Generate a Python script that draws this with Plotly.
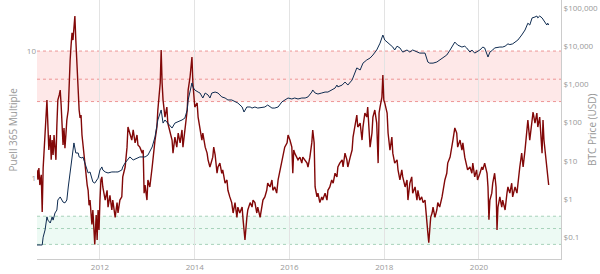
import plotly.graph_objects as go
from datetime import datetime

# ---- data (decimal years) ----
puell_t = [
    2010.67, 2010.69, 2010.71, 2010.73, 2010.76, 2010.78, 2010.80, 2010.82, 2010.84, 2010.86,
    2010.88, 2010.90, 2010.92, 2010.95, 2010.97, 2010.99, 2011.01, 2011.03, 2011.05, 2011.07,
    2011.09, 2011.11, 2011.14, 2011.16, 2011.18, 2011.20, 2011.22, 2011.24, 2011.26, 2011.28,
    2011.30, 2011.33, 2011.35, 2011.37, 2011.39, 2011.41, 2011.43, 2011.45, 2011.47, 2011.49,
    2011.51, 2011.54, 2011.56, 2011.58, 2011.60, 2011.62, 2011.64, 2011.66, 2011.68, 2011.70,
    2011.73, 2011.75, 2011.77, 2011.79, 2011.81, 2011.83, 2011.85, 2011.87, 2011.89, 2011.92,
    2011.94, 2011.96, 2011.98, 2012.00, 2012.02,
    2012.04, 2012.06, 2012.11, 2012.15, 2012.17, 2012.21, 2012.25, 2012.27, 2012.32, 2012.36,
    2012.38, 2012.42, 2012.46, 2012.48, 2012.53, 2012.57, 2012.59, 2012.63, 2012.67, 2012.70,
    2012.74, 2012.78, 2012.80, 2012.84, 2012.89, 2012.91, 2012.93, 2012.95,
    2012.99, 2013.01, 2013.05, 2013.10, 2013.12, 2013.16, 2013.20, 2013.22, 2013.27, 2013.29,
    2013.31, 2013.33, 2013.37, 2013.41, 2013.43, 2013.48, 2013.52, 2013.54, 2013.58, 2013.62,
    2013.65, 2013.69, 2013.73, 2013.75, 2013.79, 2013.84, 2013.86, 2013.90, 2013.94, 2013.96,
    2014.00, 2014.05, 2014.07, 2014.11, 2014.15, 2014.17, 2014.22, 2014.26, 2014.28, 2014.32,
    2014.36, 2014.38, 2014.40, 2014.43, 2014.47, 2014.49, 2014.53, 2014.57, 2014.59, 2014.64,
    2014.68, 2014.70, 2014.74, 2014.78, 2014.81, 2014.85, 2014.89, 2014.91, 2014.95, 2015.00,
    2015.02, 2015.06, 2015.10, 2015.12, 2015.17, 2015.21, 2015.23,
    2015.27, 2015.31, 2015.33, 2015.38, 2015.42, 2015.44, 2015.48, 2015.52, 2015.54, 2015.59,
    2015.63, 2015.65, 2015.69, 2015.73, 2015.76, 2015.80, 2015.84, 2015.86, 2015.90, 2015.95,
    2015.97, 2016.01, 2016.05, 2016.07, 2016.09, 2016.11, 2016.16, 2016.18, 2016.22, 2016.26,
    2016.28, 2016.33, 2016.37, 2016.39, 2016.43, 2016.47, 2016.49, 2016.52, 2016.54, 2016.58,
    2016.60, 2016.64, 2016.68, 2016.70, 2016.75, 2016.79, 2016.81, 2016.85, 2016.89, 2016.92,
    2016.96, 2017.00, 2017.02, 2017.06, 2017.11, 2017.13, 2017.17, 2017.21, 2017.23, 2017.28,
    2017.32, 2017.34, 2017.38, 2017.42, 2017.44, 2017.49, 2017.53, 2017.55,
    2017.59, 2017.63, 2017.65, 2017.70, 2017.74, 2017.76, 2017.80, 2017.84, 2017.87, 2017.89,
    2017.91, 2017.95, 2017.97, 2017.99, 2018.01, 2018.06, 2018.08, 2018.12, 2018.16, 2018.18,
    2018.22, 2018.27, 2018.29, 2018.33, 2018.37, 2018.39, 2018.44, 2018.48, 2018.50, 2018.54,
    2018.58, 2018.60, 2018.65, 2018.69, 2018.71, 2018.75, 2018.79, 2018.82, 2018.86, 2018.90,
    2018.92, 2018.94, 2018.98, 2019.01, 2019.03, 2019.07, 2019.11, 2019.13, 2019.17, 2019.22,
    2019.24, 2019.28, 2019.32, 2019.34, 2019.39, 2019.43, 2019.45, 2019.49, 2019.53, 2019.55,
    2019.60, 2019.64, 2019.66, 2019.70, 2019.74, 2019.76,
    2019.81, 2019.85, 2019.87, 2019.91, 2019.95, 2019.97, 2020.02, 2020.06, 2020.08, 2020.12,
    2020.17, 2020.19, 2020.21, 2020.23, 2020.27, 2020.29, 2020.33, 2020.36, 2020.38, 2020.40,
    2020.44, 2020.48, 2020.50, 2020.55, 2020.59, 2020.61, 2020.65, 2020.69, 2020.71, 2020.76,
    2020.80, 2020.82, 2020.86, 2020.90, 2020.93, 2020.97, 2021.01, 2021.03, 2021.07, 2021.12,
    2021.14, 2021.18, 2021.22, 2021.24, 2021.28, 2021.33, 2021.35, 2021.37, 2021.41, 2021.43,
    2021.45, 2021.47,
]
puell_v = [
    1.16, 0.97, 1.20, 0.88, 1.06, 0.54, 1.20, 1.66, 2.39, 3.13,
    4.11, 2.61, 1.66, 2.18, 1.39, 1.99, 1.52, 2.18, 1.66, 1.39,
    2.61, 4.11, 4.51, 4.93, 3.76, 2.39, 1.82, 2.48, 1.72, 2.18,
    2.86, 3.43, 7.08, 8.5, 11.1, 13.9, 12.2, 14.6, 18.9, 12.2,
    8.5, 4.11, 3.43, 2.97, 3.13, 2.18, 1.82, 1.52, 1.27, 1.06,
    0.88, 0.80, 0.61, 0.67, 0.51, 0.43, 0.56, 0.36, 0.30, 0.51,
    0.325, 0.56, 0.39, 0.67, 0.965,
    1.02, 0.85, 0.67, 0.80, 0.59, 0.73, 0.56, 0.67, 0.49, 0.64,
    0.53, 0.67, 0.71, 1.02, 1.22, 1.75, 2.52, 2.26, 1.99, 2.39,
    1.89, 2.18, 1.82, 1.75, 1.57, 1.66, 0.76, 0.88,
    0.67, 0.965, 0.85, 1.22, 1.46, 1.99, 2.52, 3.43, 5.60, 10.2,
    5.60, 4.11, 3.02, 3.62, 2.71, 2.26, 1.99, 1.57, 2.10, 1.75,
    2.26, 1.89, 2.39, 1.75, 2.26, 3.43, 4.93, 6.24, 8.97, 5.60,
    3.62, 3.90, 3.02, 2.52, 1.99, 2.26, 1.75, 1.57, 1.39, 1.22,
    1.39, 1.46, 1.75, 1.52, 1.09, 1.22, 1.31, 1.09, 1.16, 0.91,
    0.965, 0.80, 0.71, 0.64, 0.53, 0.64, 0.49, 0.59, 0.53, 0.59,
    0.47, 0.325, 0.49, 0.56, 0.64, 0.59, 0.67,
    0.64, 0.53, 0.59, 0.49, 0.59, 0.67, 0.71, 0.80, 0.91, 0.85,
    0.965, 0.80, 0.85, 0.76, 0.965, 1.16, 1.31, 1.46, 1.75, 1.89,
    2.18, 1.99, 1.75, 1.09, 1.66, 1.57, 1.46, 1.39, 1.46, 1.31,
    1.46, 1.39, 1.31, 1.22, 1.46, 1.89, 2.39, 1.89, 0.85, 0.71,
    0.76, 0.64, 0.71, 0.67, 0.76, 0.67, 0.80, 0.85, 0.965, 0.91,
    1.09, 1.02, 1.22, 1.31, 1.39, 1.22, 1.57, 1.39, 1.22, 1.46,
    1.66, 2.10, 2.52, 3.13, 2.52, 2.71, 1.99, 2.52,
    3.25, 3.02, 3.62, 1.75, 2.26, 3.02, 3.43, 2.71, 1.31, 3.25,
    3.62, 4.34, 6.47, 4.11, 3.90, 3.25, 2.26, 1.66, 2.10, 1.57,
    1.31, 1.39, 1.16, 0.965, 1.16, 1.02, 0.85, 0.965, 0.67, 0.91,
    1.02, 0.76, 0.85, 0.67, 0.80, 0.67, 0.71, 0.64, 0.67, 0.49,
    0.37, 0.31, 0.49, 0.53, 0.59, 0.49, 0.56, 0.64, 0.59, 0.71,
    0.80, 0.965, 1.09, 1.31, 1.46, 1.75, 1.99, 2.48, 2.26, 1.75,
    1.99, 1.66, 1.89, 1.46, 1.22, 1.16,
    1.22, 1.09, 1.31, 1.02, 1.16, 0.965, 1.09, 1.22, 1.16, 1.31,
    1.09, 0.85, 0.47, 0.67, 0.76, 0.91, 1.09, 0.85, 0.39, 0.59,
    0.71, 0.59, 0.67, 0.56, 0.76, 0.85, 0.76, 0.91, 0.71, 0.85,
    0.76, 0.91, 1.22, 1.57, 1.22, 1.66, 2.52, 2.86, 1.99, 3.13,
    3.31, 2.71, 3.25, 2.52, 3.02, 1.57, 2.86, 1.99, 1.46, 1.22,
    1.09, 0.88,
]

price_t = [
    2010.67, 2010.78, 2010.80, 2010.84, 2010.88, 2010.90, 2010.95, 2010.99, 2011.01, 2011.05,
    2011.09, 2011.11, 2011.16, 2011.20, 2011.22, 2011.26, 2011.30, 2011.33, 2011.37, 2011.41,
    2011.43, 2011.45, 2011.49, 2011.54, 2011.56, 2011.62, 2011.64, 2011.68, 2011.73, 2011.75,
    2011.79, 2011.83, 2011.85, 2011.89, 2011.94, 2011.96, 2012.00, 2012.04, 2012.06, 2012.11,
    2012.17, 2012.25, 2012.32, 2012.38, 2012.46, 2012.48, 2012.53, 2012.57, 2012.63, 2012.70,
    2012.78, 2012.84, 2012.91, 2012.95, 2013.01, 2013.10, 2013.16, 2013.22, 2013.29, 2013.31,
    2013.33, 2013.37, 2013.43, 2013.52, 2013.58, 2013.65, 2013.73, 2013.79, 2013.84, 2013.86,
    2013.90, 2013.94, 2013.96, 2014.00, 2014.07, 2014.11, 2014.17, 2014.22, 2014.28, 2014.32,
    2014.36, 2014.43, 2014.49, 2014.57, 2014.64, 2014.70, 2014.78, 2014.85, 2014.91, 2015.00,
    2015.04, 2015.10, 2015.17, 2015.21, 2015.27, 2015.33, 2015.42, 2015.48, 2015.54, 2015.63,
    2015.69, 2015.76, 2015.84, 2015.90, 2015.97, 2016.05, 2016.11, 2016.18, 2016.26, 2016.33,
    2016.39, 2016.47, 2016.49, 2016.54, 2016.60, 2016.68, 2016.75, 2016.81, 2016.89, 2016.96,
    2017.00, 2017.02, 2017.11, 2017.17, 2017.21, 2017.23, 2017.32, 2017.38, 2017.42, 2017.49,
    2017.55, 2017.63, 2017.70, 2017.76, 2017.84, 2017.91, 2017.97, 2018.01, 2018.06, 2018.12,
    2018.18, 2018.22, 2018.27, 2018.33, 2018.39, 2018.48, 2018.54, 2018.60, 2018.69, 2018.75,
    2018.86, 2018.90, 2018.92, 2018.96, 2019.03, 2019.11, 2019.17, 2019.24, 2019.32, 2019.39,
    2019.45, 2019.49, 2019.55, 2019.64, 2019.70, 2019.74, 2019.81, 2019.85, 2019.91, 2019.95,
    2020.02, 2020.08, 2020.12, 2020.19, 2020.23, 2020.29, 2020.33, 2020.44, 2020.50, 2020.55,
    2020.61, 2020.65, 2020.71, 2020.82, 2020.86, 2020.90, 2020.97, 2021.01, 2021.03, 2021.07,
    2021.12, 2021.18, 2021.22, 2021.24, 2021.28, 2021.33, 2021.39, 2021.43, 2021.45, 2021.47,
]
price_v = [
    0.0625, 0.0625, 0.10, 0.154, 0.34, 0.28, 0.235, 0.34, 0.28, 0.43,
    0.515, 0.94, 1.13, 0.94, 0.83, 0.79, 0.94, 2.06, 4.8, 10.5,
    19.2, 29.3, 16.0, 16.0, 12.6, 11.8, 12.6, 8.8, 5.74, 4.8,
    5.1, 3.14, 2.8, 2.6, 3.14, 3.5, 5.74, 6.9, 5.74, 5.1,
    4.8, 5.1, 5.1, 5.1, 5.74, 6.9, 8.8, 10.5, 12.6, 10.5,
    11.8, 12.6, 12.6, 12.6, 14.1, 23, 42, 117, 214, 117,
    97, 117, 97, 72, 97, 104, 117, 131, 214, 391,
    714, 1090, 860, 714, 630, 595, 440, 595, 528, 440,
    595, 630, 595, 470, 440, 391, 391, 348, 325, 256,
    189, 256, 256, 240, 256, 240, 256, 256, 288, 240,
    240, 256, 348, 391, 440, 415, 440, 415, 440, 440,
    470, 630, 714, 595, 560, 595, 630, 630, 714, 800,
    960, 860, 960, 1150, 1030, 960, 1300, 2100, 2700, 2380,
    3600, 4350, 4900, 5870, 7950, 12000, 19600, 14500, 12800, 10700,
    9500, 7950, 10000, 9000, 7000, 7950, 7000, 7950, 7000, 6600,
    6600, 4900, 3850, 3600, 3600, 3850, 4350, 4900, 5870, 7950,
    10700, 12800, 10700, 9500, 10000, 9000, 7000, 7950, 6600, 7000,
    7950, 9500, 9000, 5200, 7000, 7950, 9000, 9500, 9500, 10000,
    11500, 11000, 11500, 14500, 16500, 19600, 26500, 33000, 40000, 35800,
    55000, 58000, 61600, 55000, 61600, 55000, 43000, 35800, 40000, 35800,
]

red_band = [4, 10]
red_mid = 6
green_band = [0.3, 0.5]
green_mid = 0.4

price_tickvals = [0.1, 1, 10, 100, 1000, 10000, 100000]
price_ticktext = ["$0.1", "$1", "$10", "$100", "$1,000", "$10,000", "$100,000"]
year_ticks = ["2012-01-01", "2014-01-01", "2016-01-01", "2018-01-01", "2020-01-01"]


def dec2date(t):
    y = int(t)
    a = datetime(y, 1, 1)
    b = datetime(y + 1, 1, 1)
    return a + (b - a) * (t - y)


px_dates = [dec2date(t) for t in puell_t]
pr_dates = [dec2date(t) for t in price_t]

fig = go.Figure()
fig.add_trace(go.Scatter(x=px_dates, y=puell_v, mode="lines", name="Puell Multiple",
                         line=dict(color="#820808", width=1.4), yaxis="y"))
fig.add_trace(go.Scatter(x=pr_dates, y=price_v, mode="lines", name="BTC Price",
                         line=dict(color="#0e2b50", width=1), yaxis="y2"))

shapes = []
for lo, hi, mid, fill, lc in [
    (red_band[0], red_band[1], red_mid, "rgba(250,90,90,0.14)", "rgba(235,140,140,0.9)"),
    (green_band[0], green_band[1], green_mid, "rgba(60,200,130,0.09)", "rgba(160,205,180,0.9)"),
]:
    shapes.append(dict(type="rect", xref="paper", yref="y", x0=0, x1=1, y0=lo, y1=hi,
                       fillcolor=fill, line=dict(width=0), layer="below"))
    for v in (lo, mid, hi):
        shapes.append(dict(type="line", xref="paper", yref="y", x0=0, x1=1, y0=v, y1=v,
                           line=dict(color=lc, width=1, dash="dot"), layer="below"))

fig.update_layout(
    width=600, height=274,
    margin=dict(l=37, r=39, t=0, b=15),
    paper_bgcolor="white", plot_bgcolor="white",
    showlegend=False,
    font=dict(family="Open Sans", size=8, color="#999999"),
    shapes=shapes,
    xaxis=dict(
        type="date",
        range=[dec2date(2010.67), dec2date(2021.73)],
        tickvals=year_ticks, tickformat="%Y",
        showgrid=True, gridcolor="#e3e3e3", gridwidth=1,
        showline=True, linecolor="#cccccc", linewidth=1,
        ticks="", tickfont=dict(size=8, color="#999999"),
        zeroline=False,
    ),
    yaxis=dict(
        type="log", range=[-0.638, 1.402],
        tickvals=[1, 10], ticktext=["1", "10"],
        showgrid=False, zeroline=False, showline=False,
        tickfont=dict(size=8, color="#999999"),
    ),
    yaxis2=dict(
        type="log", range=[-1.571, 5.209], overlaying="y", side="right",
        tickvals=price_tickvals, ticktext=price_ticktext,
        showgrid=False, zeroline=False,
        showline=True, linecolor="#cccccc", linewidth=1,
        tickfont=dict(size=8, color="#999999"),
    ),
    annotations=[
        dict(text="Puell 365 Multiple", xref="paper", yref="paper", x=-0.046, y=0.5,
             xanchor="center", yanchor="middle", textangle=-90, showarrow=False,
             font=dict(size=10, color="#999999", family="Open Sans")),
        dict(text="BTC Price (USD)", xref="paper", yref="paper", x=1.058, y=0.5,
             xanchor="center", yanchor="middle", textangle=-90, showarrow=False,
             font=dict(size=10, color="#999999", family="Open Sans")),
    ],
)

fig.write_html("out.html")
